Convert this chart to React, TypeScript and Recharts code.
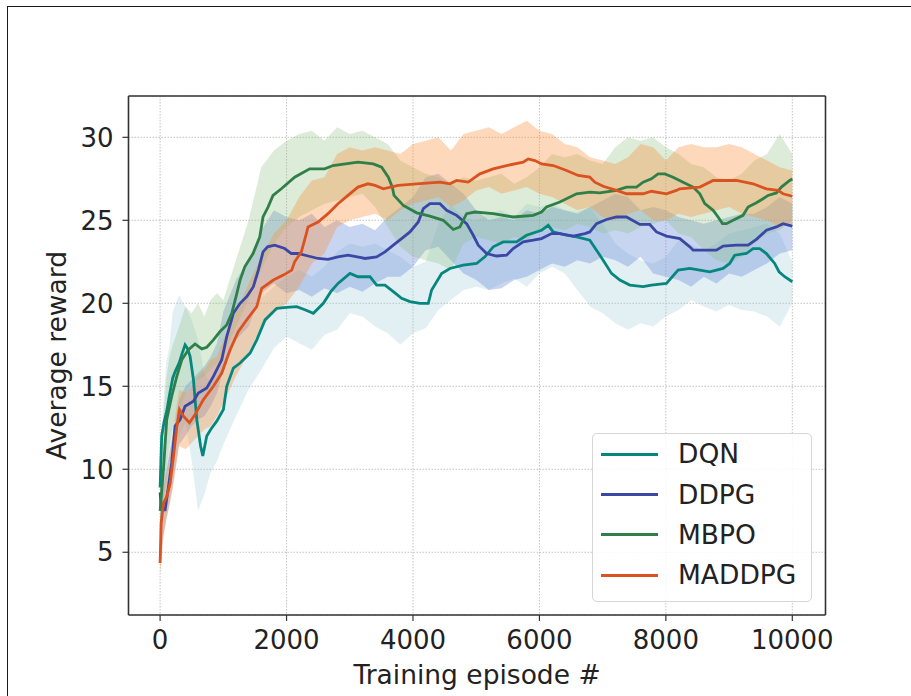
import { ComposedChart, Line, Area, XAxis, YAxis, CartesianGrid, ReferenceLine, Legend, Label } from 'recharts'

const FONT = '"DejaVu Sans", sans-serif'
const TEXT = '#222'
const SPINE = '#333'

const X_TICKS = [0, 2000, 4000, 6000, 8000, 10000]
const Y_TICKS = [5, 10, 15, 20, 25, 30]
const X_DOMAIN: [number, number] = [-500, 10525]
const Y_DOMAIN: [number, number] = [1.22, 32.49]

// mean curves, [episode, reward]
const DQN_MEAN: [number, number][] = [
  [0, 8.9], [25, 12.0], [60, 12.8], [105, 13.5], [150, 14.5], [200, 15.5], [240, 15.9], [300, 16.4],
  [350, 17.0], [395, 17.5], [430, 17.3], [474, 16.8], [527, 15.4], [580, 13.0], [640, 11.4], [675, 10.8],
  [738, 12.0], [800, 12.4], [896, 12.9], [1001, 13.6], [1054, 15.0], [1159, 16.1], [1265, 16.4], [1423, 17.0],
  [1529, 17.8], [1660, 19.0], [1845, 19.7], [2000, 19.75], [2161, 19.8], [2300, 19.6], [2424, 19.4], [2582, 20.0],
  [2700, 20.7], [2814, 21.2], [3003, 21.8], [3130, 21.6], [3320, 21.6], [3425, 21.1], [3557, 21.1], [3689, 20.7],
  [3820, 20.3], [3952, 20.1], [4110, 20.0], [4242, 20.0], [4295, 20.8], [4453, 21.8], [4584, 22.1], [4795, 22.3],
  [5006, 22.4], [5137, 22.8], [5269, 23.4], [5427, 23.7], [5638, 23.7], [5796, 24.1], [6033, 24.4], [6139, 24.7],
  [6218, 24.3], [6429, 24.1], [6587, 24.0], [6797, 23.8], [6903, 23.2], [7008, 22.6], [7140, 21.8], [7272, 21.4],
  [7430, 21.1], [7640, 21.0], [7772, 21.1], [8009, 21.2], [8194, 22.0], [8379, 22.1], [8537, 22.0], [8695, 21.9],
  [8905, 22.1], [9010, 22.4], [9089, 22.9], [9274, 23.0], [9379, 23.3], [9484, 23.3], [9590, 23.0], [9721, 22.4],
  [9790, 21.9], [9880, 21.6], [10000, 21.3],
]

const DDPG_MEAN: [number, number][] = [
  [0, 8.6], [20, 7.6], [42, 7.55], [79, 7.55], [132, 8.95], [184, 10.4], [237, 12.6], [316, 13.0],
  [395, 13.8], [527, 14.1], [605, 14.6], [738, 14.9], [843, 15.6], [975, 16.6], [1054, 18.0], [1159, 19.4],
  [1265, 20.0], [1370, 20.4], [1475, 21.0], [1554, 22.0], [1628, 23.1], [1700, 23.4], [1813, 23.5], [1971, 23.3],
  [2076, 23.0], [2181, 23.0], [2340, 22.85], [2500, 22.7], [2656, 22.65], [2814, 22.8], [2972, 22.9], [3182, 22.75],
  [3241, 22.7], [3425, 22.8], [3557, 23.1], [3689, 23.5], [3820, 23.9], [3952, 24.3], [4084, 24.9], [4163, 25.7],
  [4268, 26.0], [4426, 26.0], [4532, 25.6], [4690, 25.3], [4848, 24.8], [4953, 24.1], [5032, 23.5], [5164, 23.0],
  [5322, 22.85], [5480, 22.9], [5585, 23.3], [5743, 23.7], [5902, 23.8], [6033, 23.9], [6192, 24.2], [6323, 24.2],
  [6534, 24.05], [6720, 24.2], [6797, 24.3], [6903, 24.8], [7061, 25.05], [7219, 25.2], [7377, 25.2], [7588, 24.75],
  [7746, 24.75], [7851, 24.3], [8009, 24.05], [8220, 23.9], [8379, 23.4], [8431, 23.2], [8590, 23.2], [8800, 23.2],
  [8905, 23.45], [9116, 23.5], [9300, 23.5], [9432, 23.85], [9590, 24.4], [9748, 24.6], [9853, 24.8], [10000, 24.65],
]

const MBPO_MEAN: [number, number][] = [
  [0, 7.5], [53, 10.0], [105, 13.0], [184, 14.4], [264, 15.6], [343, 16.6], [448, 17.2], [553, 17.55],
  [659, 17.25], [738, 17.35], [843, 17.8], [948, 18.3], [1054, 18.7], [1133, 19.4], [1201, 20.4], [1265, 21.4],
  [1339, 22.2], [1470, 23.0], [1576, 24.0], [1628, 25.2], [1707, 25.8], [1786, 26.5], [1918, 26.9], [2128, 27.6],
  [2366, 28.1], [2603, 28.1], [2735, 28.3], [3130, 28.5], [3372, 28.4], [3504, 28.2], [3610, 27.6], [3673, 27.0],
  [3700, 26.5], [3847, 25.9], [4058, 25.45], [4268, 25.25], [4479, 25.0], [4637, 24.45], [4742, 24.6], [4848, 25.4],
  [4980, 25.5], [5269, 25.4], [5585, 25.2], [5902, 25.3], [6033, 25.5], [6112, 25.8], [6323, 26.1], [6587, 26.6],
  [6797, 26.7], [6955, 26.65], [7219, 26.8], [7377, 27.0], [7535, 27.0], [7640, 27.3], [7772, 27.5], [7877, 27.8],
  [7983, 27.8], [8114, 27.6], [8272, 27.3], [8431, 27.0], [8537, 26.6], [8616, 26.0], [8748, 25.6], [8826, 25.2],
  [8895, 24.8], [8958, 24.8], [9063, 25.0], [9221, 25.3], [9300, 25.8], [9432, 26.06], [9537, 26.3], [9616, 26.5],
  [9748, 26.65], [9827, 27.0], [9959, 27.4], [10000, 27.5],
]

const MADDPG_MEAN: [number, number][] = [
  [0, 4.35], [16, 6.75], [53, 7.95], [105, 8.35], [158, 9.15], [211, 10.75], [264, 12.55], [306, 13.6],
  [369, 13.2], [464, 12.8], [553, 13.3], [685, 14.2], [843, 15.0], [975, 15.8], [1107, 17.2], [1238, 18.3],
  [1370, 19.0], [1529, 19.8], [1607, 20.9], [1792, 21.4], [1950, 21.7], [2082, 22.0], [2128, 22.5], [2234, 23.1],
  [2313, 24.2], [2340, 24.6], [2498, 24.9], [2656, 25.4], [2814, 26.0], [2972, 26.5], [3130, 27.0], [3288, 27.2],
  [3400, 27.1], [3530, 26.9], [3767, 27.1], [4058, 27.2], [4426, 27.3], [4584, 27.2], [4690, 27.4], [4874, 27.3],
  [5058, 27.8], [5269, 28.1], [5480, 28.3], [5743, 28.5], [5822, 28.7], [5928, 28.6], [6033, 28.4], [6218, 28.3],
  [6429, 28.0], [6613, 27.7], [6797, 27.6], [6876, 27.3], [7008, 27.05], [7219, 26.8], [7377, 26.6], [7640, 26.6],
  [7772, 26.75], [8009, 26.6], [8167, 26.8], [8220, 26.9], [8537, 27.0], [8748, 27.4], [9116, 27.4], [9379, 27.2],
  [9590, 26.9], [9774, 26.8], [9853, 26.6], [10000, 26.45],
]

// shaded spread, sampled on a shared episode grid, [low, high]
const BAND_EP = [
  0, 50, 100, 150, 200, 300, 400, 500, 600, 700, 800, 900, 1000,
  1200, 1400, 1600, 1800, 2000, 2200, 2400, 2600, 2800, 3000, 3200, 3400, 3600, 3800, 4000,
  4200, 4400, 4600, 4800, 5000, 5200, 5400, 5600, 5800, 6000, 6200, 6400, 6600, 6800, 7000,
  7200, 7400, 7600, 7800, 8000, 8200, 8400, 8600, 8800, 9000, 9200, 9400, 9600, 9800, 10000,
]

const DQN_BAND: [number, number][] = [
  [5, 10], [8, 14], [9.5, 16.5], [10.5, 17.5], [11, 19.5], [12, 20.5], [12.8, 19.8], [10.5, 19], [7.5, 17.8],
  [8.5, 15.8], [9.8, 15.2], [10.5, 15.8], [11.5, 16.4],
  [13.2, 18.2], [14.8, 18.8], [16, 20.3], [17.3, 21], [18, 21.6], [17.6, 22], [17.2, 21.6], [18.1, 22.2],
  [18.4, 23.1], [19.4, 23.6], [19.2, 23.4], [18.6, 23.6], [18.2, 23.2], [17.5, 22.8], [18.2, 22.2],
  [18.5, 22.5], [19.6, 24.8], [20.2, 25.9], [20.8, 25.2], [21.0, 25.0], [20.8, 25.4], [21.2, 25.6], [21.5, 25.2],
  [21.0, 26.0], [21.8, 25.8], [22.2, 26.0], [21.8, 25.6], [20.8, 25.5], [19.8, 25.8], [19.4, 24.8],
  [18.8, 23.6], [18.4, 23.0], [18.8, 22.6], [18.6, 22.4], [19.2, 22.8], [19.6, 23.8], [20.2, 23.5], [19.8, 23.2],
  [19.5, 23.6], [19.9, 24.2], [19.6, 24.4], [19.5, 24.6], [19.2, 24.8], [18.6, 24.2], [20.0, 22.5],
]

const DDPG_BAND: [number, number][] = [
  [4, 9], [6, 9], [7, 10], [8, 11], [9, 12], [11.5, 14.2], [12, 15], [12.6, 15.4], [13, 15.8],
  [13.2, 16.2], [13.8, 16.8], [14.6, 17.6], [16, 19.5],
  [17.8, 21.4], [18.6, 22.6], [20.6, 24.4], [21.2, 25.6], [20.6, 25.2], [20.8, 25.0], [20.4, 25.4], [20.9, 24.6],
  [20.6, 25.0], [21.0, 24.6], [20.7, 24.8], [21.2, 24.4], [21.6, 25.2], [21.6, 25.8], [22.2, 26.4],
  [23.2, 27.6], [23.4, 27.8], [22.6, 27.2], [21.8, 26.6], [21.4, 25.6], [20.8, 25.0], [20.9, 25.2], [21.4, 25.0],
  [21.6, 25.6], [22.0, 25.4], [22.4, 25.8], [22.2, 25.6], [22.6, 25.4], [22.4, 25.8], [22.8, 26.2],
  [22.6, 26.6], [22.2, 26.4], [22.8, 25.6], [21.8, 25.8], [21.6, 25.6], [21.4, 25.2], [21.0, 25.0], [21.6, 24.8],
  [21.2, 25.0], [21.8, 25.2], [21.6, 25.4], [22.0, 25.4], [22.4, 25.8], [23.0, 26.4], [23.2, 26.0],
]

const MBPO_BAND: [number, number][] = [
  [6, 10], [8, 13], [10, 15.5], [11.5, 16.8], [12.5, 17.5], [13.6, 18.6], [14.5, 19.8], [15.2, 19.4], [15.4, 20],
  [15.6, 19.2], [16.0, 20.2], [16.4, 20.6], [16.8, 20.2],
  [18.6, 22.6], [20.2, 25.0], [22.0, 28.2], [23.6, 29.2], [24.6, 29.8], [25.2, 30.2], [25.6, 30.4], [26.0, 29.8],
  [26.2, 30.6], [26.4, 30.2], [26.6, 30.4], [25.8, 30.0], [24.6, 29.6], [23.4, 28.6], [22.8, 28.2],
  [22.6, 27.8], [22.4, 27.6], [22.0, 27.2], [23.6, 27.6], [24.0, 27.4], [23.8, 27.6], [23.6, 27.8], [24.0, 27.2],
  [23.8, 27.6], [24.4, 28.2], [24.6, 29.0], [24.4, 28.8], [24.8, 29.0], [24.6, 28.6], [24.2, 28.4],
  [24.4, 29.4], [24.2, 30.0], [24.6, 29.8], [24.8, 30.0], [25.0, 29.4], [24.2, 29.0], [24.0, 28.4], [23.2, 28.2],
  [22.6, 27.6], [22.4, 27.4], [22.8, 27.8], [23.6, 28.6], [24.2, 29.0], [24.4, 30.2], [25.0, 29.0],
]

const MADDPG_BAND: [number, number][] = [
  [3.6, 6], [5.8, 8.6], [7, 9.8], [7.8, 10.8], [8.8, 12.2], [11.4, 14.8], [11.2, 14.6], [11.6, 15.0], [12.0, 15.6],
  [12.4, 16.0], [12.6, 16.6], [13.2, 16.8], [14.0, 17.8],
  [15.6, 19.4], [17.0, 21.2], [18.6, 22.8], [19.4, 24.2], [20.0, 25.0], [21.0, 26.4], [22.4, 27.4], [23.0, 27.6],
  [24.6, 29.0], [25.0, 29.4], [25.2, 29.2], [25.4, 29.4], [25.0, 29.2], [25.6, 29.0], [26.0, 29.6],
  [26.2, 29.8], [26.4, 30.0], [25.8, 29.2], [26.2, 30.2], [26.8, 30.4], [27.0, 30.6], [26.6, 30.2], [26.8, 30.6],
  [27.0, 31.0], [26.6, 30.4], [26.4, 30.2], [26.0, 29.6], [25.6, 29.4], [25.8, 28.8], [25.2, 28.6],
  [25.0, 28.4], [25.4, 28.8], [25.6, 29.6], [25.0, 29.4], [25.0, 28.6], [25.4, 29.4], [25.2, 29.6], [25.4, 29.4],
  [25.6, 29.4], [25.8, 29.6], [25.4, 29.4], [25.2, 29.0], [25.0, 28.6], [24.6, 28.2], [24.8, 28.0],
]

const SERIES = [
  { name: 'DQN', mean: DQN_MEAN, band: DQN_BAND, color: '#06877d', fill: '#9ecdda', alpha: 0.3 },
  { name: 'DDPG', mean: DDPG_MEAN, band: DDPG_BAND, color: '#3a47a5', fill: '#6287d4', alpha: 0.35 },
  { name: 'MBPO', mean: MBPO_MEAN, band: MBPO_BAND, color: '#2f7f48', fill: '#8ac07d', alpha: 0.3 },
  { name: 'MADDPG', mean: MADDPG_MEAN, band: MADDPG_BAND, color: '#d9521f', fill: '#f9903d', alpha: 0.35 },
]
const SERIES_NAMES = SERIES.map((s) => s.name)

const toLine = (pts: [number, number][]) => pts.map(([ep, v]) => ({ ep, v }))
const toBand = (b: [number, number][]) => BAND_EP.map((ep, i) => ({ ep, range: b[i] }))

// eslint-disable-next-line @typescript-eslint/no-explicit-any
function LegendBox({ payload }: any) {
  // only the mean lines, in plotting order (bands are left out)
  const items = (payload ?? [])
    .filter((p: { value: string }) => SERIES_NAMES.includes(p.value))
    .sort((a: { value: string }, b: { value: string }) => SERIES_NAMES.indexOf(a.value) - SERIES_NAMES.indexOf(b.value))
  return (
    <div
      style={{
        width: 220, height: 169, boxSizing: 'border-box', border: '1.5px solid #d6d6d6',
        borderRadius: 5, background: 'rgba(255,255,255,0.85)', paddingTop: 0.5, fontFamily: FONT,
      }}
    >
      {items.map((p: { value: string; color: string }) => (
        <div key={p.value} style={{ height: 40.2, display: 'flex', alignItems: 'center' }}>
          <span style={{ display: 'inline-block', width: 57, height: 3, background: p.color, marginLeft: 8 }} />
          <span style={{ marginLeft: 20, fontSize: 26.5, lineHeight: 1, color: TEXT }}>{p.value}</span>
        </div>
      ))}
    </div>
  )
}

// eslint-disable-next-line @typescript-eslint/no-explicit-any
function YTitle({ viewBox }: any) {
  const cx = viewBox.x - 12.2
  const cy = viewBox.y + viewBox.height / 2
  return (
    <text
      x={cx} y={cy} dy="0.36em" textAnchor="middle" transform={`rotate(-90 ${cx} ${cy})`}
      fontSize={26.5} fill={TEXT} fontFamily={FONT}
    >
      Average reward
    </text>
  )
}

export default function App() {
  const tick = { fontSize: 26, fill: TEXT, fontFamily: FONT }
  return (
    <div style={{ position: 'absolute', left: 0, top: 0, width: 911, height: 696, background: '#fff' }}>
      <div
        style={{
          position: 'absolute', left: 7, top: 6, width: 904, height: 690,
          borderTop: '1.5px solid #1a1a1a', borderLeft: '1.5px solid #1a1a1a', boxSizing: 'border-box',
        }}
      />
      <div style={{ position: 'absolute', left: 0, top: 0 }}>
        <ComposedChart width={911} height={696} margin={{ top: 96, right: 85.5, left: 68.5, bottom: 41 }}>
          <CartesianGrid stroke="#c2c2c2" strokeDasharray="1.5 1.5" strokeWidth={1} />
          <XAxis
            type="number" dataKey="ep" domain={X_DOMAIN} ticks={X_TICKS} allowDataOverflow
            height={40} tick={tick} tickSize={6} tickMargin={10}
            axisLine={{ stroke: SPINE, strokeWidth: 1.6 }} tickLine={{ stroke: SPINE, strokeWidth: 1.2 }}
          >
            <Label value="Training episode #" position="bottom" offset={10} fontSize={26.5} fill={TEXT} fontFamily={FONT} />
          </XAxis>
          <YAxis
            type="number" domain={Y_DOMAIN} ticks={Y_TICKS} allowDataOverflow
            width={60} tick={tick} tickSize={6} tickMargin={9}
            axisLine={{ stroke: SPINE, strokeWidth: 1.6 }} tickLine={{ stroke: SPINE, strokeWidth: 1.2 }}
          >
            <Label content={<YTitle />} />
          </YAxis>
          <ReferenceLine y={Y_DOMAIN[1]} stroke={SPINE} strokeWidth={1.6} />
          <ReferenceLine x={X_DOMAIN[1]} stroke={SPINE} strokeWidth={1.6} />

          {SERIES.map((s) => (
            <Area
              key={s.name + '-band'}
              name={s.name + ' band'}
              data={toBand(s.band)}
              dataKey="range"
              type="linear"
              stroke="none"
              fill={s.fill}
              fillOpacity={s.alpha}
              legendType="none"
              isAnimationActive={false}
            />
          ))}
          {SERIES.map((s) => (
            <Line
              key={s.name}
              name={s.name}
              data={toLine(s.mean)}
              dataKey="v"
              type="linear"
              stroke={s.color}
              strokeWidth={2.8}
              dot={false}
              activeDot={false}
              isAnimationActive={false}
            />
          ))}
          <Legend
            layout="vertical" align="center" verticalAlign="middle"
            content={<LegendBox />}
            wrapperStyle={{ left: 592, top: 433, width: 220, height: 169 }}
          />
        </ComposedChart>
      </div>
    </div>
  )
}
